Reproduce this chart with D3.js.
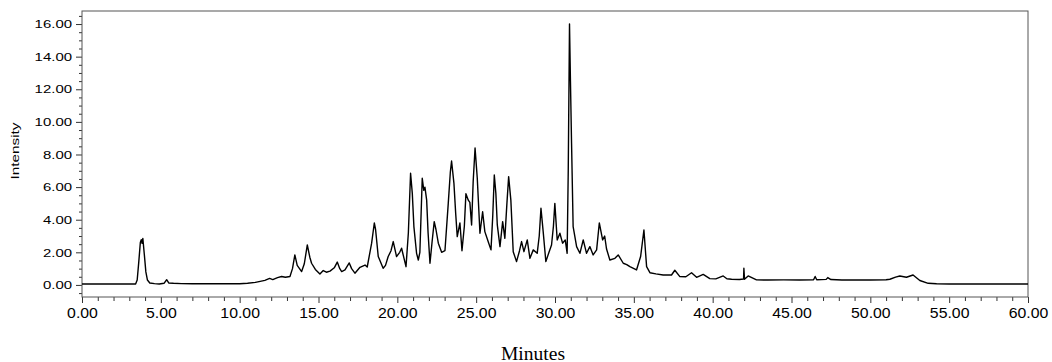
<!DOCTYPE html>
<html>
<head>
<meta charset="utf-8">
<script src="https://cdn.jsdelivr.net/npm/d3@7"></script>
<style>
  html, body { margin: 0; padding: 0; background: #fff; }
  svg { display: block; }
  .tick text { font-family: "Liberation Sans", Arial, sans-serif; fill: #000; }
  .axis path.domain { display: none; }
  .axis line { stroke: #333; }
</style>
</head>
<body>
<div id="chart"></div>
<script>
// retention time (min) and detector response
const retentionTimes = [
  0.00, 3.40, 3.50, 3.60, 3.70, 3.76, 3.81, 3.86, 3.95, 4.05, 4.15, 4.30, 4.60, 4.90, 5.20, 5.37, 5.50, 5.80, 6.30, 7.00,
  8.00, 9.00, 10.00, 10.50, 11.00, 11.30, 11.60, 11.90, 12.10, 12.40, 12.66, 12.90, 13.19, 13.35, 13.50, 13.65, 13.93, 14.10, 14.29, 14.45,
  14.56, 14.80, 15.09, 15.30, 15.50, 15.73, 16.00, 16.19, 16.35, 16.47, 16.68, 16.95, 17.10, 17.31, 17.63, 17.95, 18.09, 18.37, 18.54, 18.62,
  18.79, 19.10, 19.25, 19.42, 19.60, 19.74, 19.95, 20.15, 20.27, 20.55, 20.70, 20.84, 20.95, 21.05, 21.22, 21.33, 21.43, 21.58, 21.68, 21.75,
  21.86, 21.95, 22.07, 22.20, 22.34, 22.45, 22.60, 22.81, 23.02, 23.23, 23.36, 23.44, 23.59, 23.70, 23.80, 23.97, 24.10, 24.25, 24.35, 24.50,
  24.60, 24.71, 24.81, 24.93, 25.07, 25.24, 25.41, 25.55, 25.76, 25.94, 26.05, 26.15, 26.25, 26.34, 26.51, 26.68, 26.82, 26.95, 27.06, 27.20,
  27.35, 27.56, 27.75, 27.88, 28.03, 28.24, 28.41, 28.62, 28.87, 29.00, 29.11, 29.25, 29.42, 29.63, 29.78, 29.90, 29.99, 30.14, 30.31, 30.48,
  30.65, 30.77, 30.84, 30.92, 30.98, 31.05, 31.15, 31.37, 31.58, 31.79, 32.00, 32.21, 32.42, 32.64, 32.81, 33.02, 33.15, 33.27, 33.48, 33.80,
  34.01, 34.33, 34.55, 34.75, 35.17, 35.43, 35.64, 35.81, 36.02, 36.40, 36.86, 37.39, 37.60, 37.92, 38.30, 38.66, 38.98, 39.40, 39.82, 40.20,
  40.67, 40.90, 41.20, 41.70, 41.96, 41.98, 42.02, 42.25, 42.78, 43.50, 44.50, 45.50, 46.40, 46.50, 46.60, 47.20, 47.30, 47.50, 48.20, 49.00,
  50.00, 51.00, 51.24, 51.60, 51.87, 52.29, 52.71, 53.14, 53.67, 54.20, 55.00, 60.00
];
const intensity = [
  0.06, 0.06, 0.30, 1.40, 2.60, 2.78, 2.55, 2.85, 1.90, 0.80, 0.30, 0.12, 0.08, 0.06, 0.10, 0.32, 0.12, 0.10, 0.08, 0.07,
  0.07, 0.07, 0.07, 0.10, 0.16, 0.22, 0.28, 0.40, 0.33, 0.45, 0.52, 0.47, 0.52, 1.00, 1.84, 1.20, 0.82, 1.30, 2.45, 1.70,
  1.33, 0.95, 0.67, 0.88, 0.78, 0.85, 1.05, 1.40, 1.00, 0.82, 0.92, 1.35, 1.00, 0.72, 1.08, 1.22, 1.10, 2.56, 3.80, 3.40,
  1.74, 1.02, 1.20, 1.74, 2.10, 2.66, 1.74, 2.00, 2.25, 1.12, 3.20, 6.85, 5.60, 3.58, 1.94, 1.53, 2.00, 6.54, 5.80, 6.00,
  5.20, 3.20, 1.33, 2.60, 3.88, 3.40, 2.56, 2.00, 2.10, 5.00, 6.90, 7.60, 6.23, 4.40, 2.96, 3.80, 2.10, 3.60, 5.60, 5.20,
  5.06, 3.68, 6.33, 8.40, 6.54, 3.17, 4.49, 3.27, 2.66, 2.15, 4.20, 6.74, 5.60, 3.68, 2.35, 3.88, 2.86, 5.00, 6.64, 5.20,
  2.04, 1.43, 2.10, 2.66, 2.04, 2.76, 1.63, 2.15, 1.94, 3.00, 4.70, 3.27, 1.43, 2.04, 2.45, 3.60, 5.00, 2.76, 3.17, 2.56,
  2.76, 1.94, 7.00, 16.00, 12.50, 8.69, 3.58, 2.35, 1.94, 2.76, 1.94, 2.35, 1.84, 2.15, 3.80, 2.76, 3.00, 2.20, 1.53, 1.63,
  1.84, 1.33, 1.25, 1.12, 0.92, 1.74, 3.37, 1.12, 0.75, 0.68, 0.61, 0.61, 0.90, 0.51, 0.50, 0.75, 0.47, 0.65, 0.39, 0.37,
  0.55, 0.38, 0.35, 0.33, 0.36, 1.02, 0.35, 0.55, 0.31, 0.30, 0.31, 0.30, 0.32, 0.52, 0.32, 0.34, 0.45, 0.33, 0.30, 0.30,
  0.30, 0.32, 0.35, 0.48, 0.55, 0.47, 0.61, 0.27, 0.10, 0.07, 0.06, 0.06
];
const xMajorTicks = [0, 5, 10, 15, 20, 25, 30, 35, 40, 45, 50, 55, 60];
const yMajorTicks = [0, 2, 4, 6, 8, 10, 12, 14, 16];
const xLabel = 'Minutes';
const yLabel = 'Intensity';

const width = 1052, height = 362;
const margin = { top: 11, right: 24, bottom: 65, left: 82 };
const w = width - margin.left - margin.right;
const h = height - margin.top - margin.bottom;

const svg = d3.select('#chart').append('svg').attr('width', width).attr('height', height);
const g = svg.append('g').attr('transform', `translate(${margin.left},${margin.top})`);

const x = d3.scaleLinear().domain([0, 60]).range([0, w]);
const y = d3.scaleLinear().domain([-0.74, 16.8]).range([h, 0]);

// minor ticks: every minute on x, every 0.5 on y
const xMinor = d3.range(0, 61, 1).filter((d) => d % 5 !== 0);
const yMinor = d3.range(-0.5, 16.6, 0.5).filter((d) => Math.abs(d % 2) > 0.01);

g.append('g').attr('class', 'axis').attr('transform', `translate(0,${h})`)
  .call(d3.axisBottom(x).tickValues(xMinor).tickSize(4).tickSizeOuter(0).tickFormat(''));
const xAxis = g.append('g').attr('class', 'axis axis-x').attr('transform', `translate(0,${h})`)
  .call(d3.axisBottom(x).tickValues(xMajorTicks).tickSize(6).tickSizeOuter(0).tickPadding(5).tickFormat(d3.format('.2f')));
xAxis.selectAll('text').attr('font-size', 14);

g.append('g').attr('class', 'axis')
  .call(d3.axisLeft(y).tickValues(yMinor).tickSize(3).tickSizeOuter(0).tickFormat(''));
const yAxis = g.append('g').attr('class', 'axis axis-y')
  .call(d3.axisLeft(y).tickValues(yMajorTicks).tickSize(6).tickSizeOuter(0).tickPadding(4).tickFormat(d3.format('.2f')));
yAxis.selectAll('text').attr('font-size', 11.5);

// glyphs in the original are drawn wide, stretch them a bit
function widen(sel, k) {
  sel.each(function () {
    const n = this.getComputedTextLength();
    d3.select(this).attr('textLength', n * k).attr('lengthAdjust', 'spacingAndGlyphs');
  });
}
widen(xAxis.selectAll('text'), 1.13);
widen(yAxis.selectAll('text'), 1.3);

// frame
g.append('rect').attr('x', 0).attr('y', 0).attr('width', w).attr('height', h)
  .attr('fill', 'none').attr('stroke', '#555').attr('stroke-width', 1);

// trace
const pts = retentionTimes.map((t, i) => [t, intensity[i]]);
const line = d3.line().x((d) => x(d[0])).y((d) => y(d[1]));
g.append('path').datum(pts).attr('d', line)
  .attr('fill', 'none').attr('stroke', '#000').attr('stroke-width', 1.4).attr('stroke-linejoin', 'round');

// axis titles
const yt = svg.append('text').attr('transform', 'translate(18.5,151) rotate(-90)')
  .attr('text-anchor', 'middle').attr('font-family', '"Liberation Sans", Arial, sans-serif')
  .attr('font-size', 11).text(yLabel);
yt.attr('textLength', 57).attr('lengthAdjust', 'spacingAndGlyphs');

svg.append('text').attr('x', 533).attr('y', 359.5).attr('text-anchor', 'middle')
  .attr('font-family', '"Liberation Serif", "Times New Roman", serif').attr('font-size', 18)
  .attr('textLength', 64).attr('lengthAdjust', 'spacingAndGlyphs').text(xLabel);
</script>
</body>
</html>
